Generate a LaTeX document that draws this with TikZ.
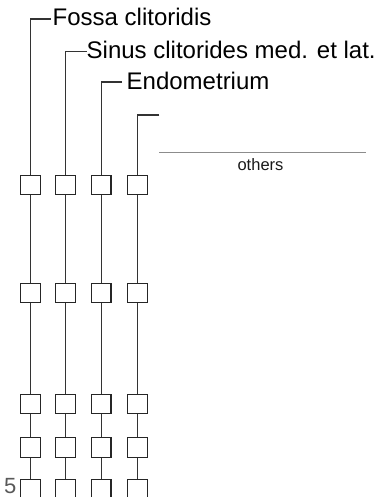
\documentclass[tikz,border=0pt]{standalone}
\usepackage{fontspec}
\setmainfont{Liberation Sans}
\begin{document}
\begin{tikzpicture}[x=1pt, y=-1pt,
    vessel/.style={draw=black!80, line width=1.1pt},
    cell/.style={draw=black!85, fill=white, line width=1.2pt, minimum width=19.5pt, minimum height=19.5pt, inner sep=0pt},
    tag/.style={font=\fontsize{24}{24}\selectfont, text=black, inner sep=0pt, anchor=base west}]
    \useasboundingbox (0,0) rectangle (386,497);

    % Cell columns
    \foreach \x [count=\c] in {30.5,65.5,101.2,137.5} {
        \foreach \y [count=\r] in {185,293,404,447.5,489}
            \node[cell] (b\c-\r) at (\x,\y) {};
        \coordinate (e\c) at (\x,497);
    }
    \foreach \c in {1,...,4} {
        \foreach \r [remember=\r as \p (initially 1)] in {2,...,5}
            \draw[vessel] (b\c-\p) -- (b\c-\r);
        \draw[vessel] (b\c-5) -- (e\c);
    }

    % Labels with brackets
    \coordinate (t1) at (30.5,19);   \coordinate (h1) at (50.7,19);
    \coordinate (t2) at (65.5,51.7); \coordinate (h2) at (86.5,51.7);
    \coordinate (t3) at (101.2,82);  \coordinate (h3) at (122,82);
    \coordinate (t4) at (137.5,115); \coordinate (h4) at (159.3,115);
    \node[tag] (fossa) at (52.5,26) {Fossa clitoridis};
    \node[tag] (sinus) at (86.5,58.5) {Sinus clitorides med. et lat.};
    \node[tag] (endo) at (126.5,89.3) {Endometrium};
    \foreach \c in {1,...,4}
        \draw[vessel] (h\c) -- (t\c) -- (b\c-1);

    % Others
    \coordinate (d1) at (159,152.7);
    \coordinate (d2) at (365.5,152.7);
    \draw[black!45, line width=0.4pt, dash pattern=on 0.4pt off 0.6pt] (d1) -- (d2);
    \node[font=\fontsize{16.5}{16.5}\selectfont, text=black!90, inner sep=0pt, anchor=base] (others) at (260.5,170.5) {others};

    % Page number
    \node[font=\fontsize{22}{22}\selectfont, text=black!65, inner sep=0pt, anchor=base east] (page) at (16.5,493.5) {5};
\end{tikzpicture}
\end{document}
